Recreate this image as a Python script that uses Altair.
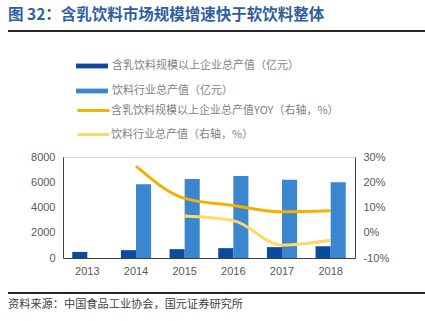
import altair as alt
import pandas as pd

years = ["2013", "2014", "2015", "2016", "2017", "2018"]
dairy_output = [480, 620, 700, 780, 860, 940]
beverage_output = [None, 5850, 6250, 6500, 6200, 6000]
dairy_yoy = [None, 26.4, 13.6, 10.8, 8.3, 8.7]
beverage_yoy = [None, None, 6.6, 4.8, -4.9, -3.0]

bar_series = ["含乳饮料规模以上企业总产值（亿元）", "饮料行业总产值（亿元）"]
line_series = ["含乳饮料规模以上企业总产值YOY（右轴，%）", "饮料行业总产值（右轴，%）"]
bar_colors = ["#0B4A9E", "#3A87CF"]
line_colors = ["#F5B000", "#FFD966"]

title_text = "图 32：含乳饮料市场规模增速快于软饮料整体"
source_text = "资料来源：中国食品工业协会，国元证券研究所"

rows = []
for s, vals in zip(bar_series, [dairy_output, beverage_output]):
    for y, v in zip(years, vals):
        if v is not None:
            rows.append({"year": y, "series": s, "value": v})
bar_df = pd.DataFrame(rows)

rows = []
for s, vals in zip(line_series, [dairy_yoy, beverage_yoy]):
    for y, v in zip(years, vals):
        if v is not None:
            rows.append({"year": y, "series": s, "value": v})
line_df = pd.DataFrame(rows)

CJK = "Noto Sans CJK SC"
NUM = "Liberation Sans"

xenc = alt.X("year:N", sort=years, title=None,
             scale=alt.Scale(domain=years, paddingInner=0.38, paddingOuter=0.19),
             axis=alt.Axis(labelAngle=0, labelFont=NUM, labelFontSize=11, labelColor="#595959",
                           ticks=False, domainColor="#404040", labelPadding=7, grid=False))

bars = alt.Chart(bar_df).mark_bar().encode(
    x=xenc,
    xOffset=alt.XOffset("series:N", sort=bar_series, scale=alt.Scale(domain=bar_series, paddingInner=0, paddingOuter=0)),
    y=alt.Y("value:Q", title=None, scale=alt.Scale(domain=[0, 8000]),
            axis=alt.Axis(values=[0, 2000, 4000, 6000, 8000], format="d", labelFont=NUM, labelFontSize=11,
                          labelColor="#595959", ticks=False, domainColor="#404040", grid=False,
                          labelPadding=8)),
    fill=alt.Fill("series:N", sort=bar_series,
                  scale=alt.Scale(domain=bar_series, range=bar_colors),
                  legend=alt.Legend(orient="none", legendX=13, legendY=-107, title=None,
                                    symbolType="M-1,-0.15H1V0.15H-1Z", symbolSize=1024,
                                    symbolStrokeWidth=0, labelFont=CJK, labelFontSize=11,
                                    labelColor="#7F7F7F", labelLimit=0, rowPadding=4,
                                    labelOffset=4)),
)

lines = alt.Chart(line_df).mark_line(interpolate="monotone", strokeWidth=3).encode(
    x=alt.X("year:N", sort=years, title=None),
    y=alt.Y("value:Q", title=None, scale=alt.Scale(domain=[-10, 30]),
            axis=alt.Axis(orient="right", values=[-10, 0, 10, 20, 30], labelExpr="datum.value + '%'",
                          labelFont=NUM, labelFontSize=11, labelColor="#595959", ticks=False,
                          domainColor="#404040", grid=False, labelPadding=8)),
    stroke=alt.Stroke("series:N", sort=line_series,
                      scale=alt.Scale(domain=line_series, range=line_colors),
                      legend=alt.Legend(orient="none", legendX=13, legendY=-64, title=None,
                                        symbolType="stroke", symbolSize=1024, symbolStrokeWidth=3,
                                        labelFont=CJK, labelFontSize=11, labelColor="#7F7F7F",
                                        labelLimit=0, rowPadding=-3, labelOffset=0)),
)

title = alt.Chart(pd.DataFrame({"t": [title_text]})).mark_text(
    align="left", baseline="middle", font=CJK, fontSize=15.5, fontWeight="bold", color="#2F5E9E"
).encode(text="t:N", x=alt.value(-55), y=alt.value(-142))

source = alt.Chart(pd.DataFrame({"t": [source_text]})).mark_text(
    align="left", baseline="middle", font=CJK, fontSize=11.2, color="#404040"
).encode(text="t:N", x=alt.value(-55), y=alt.value(148))

rules = alt.Chart(pd.DataFrame({"r": [0]})).mark_rule(color="#262626", strokeWidth=2).encode(
    x=alt.value(-55), x2=alt.value(362), y=alt.value(-126)
)
rule2 = alt.Chart(pd.DataFrame({"r": [0]})).mark_rule(color="#262626", strokeWidth=2).encode(
    x=alt.value(-55), x2=alt.value(362), y=alt.value(136)
)

chart = alt.layer(bars, lines, title, source, rules, rule2).resolve_scale(
    y="independent"
).properties(
    width=292, height=101,
    autosize=alt.AutoSizeParams(type="none"),
    padding={"left": 63, "top": 157, "right": 70, "bottom": 63},
).configure_view(strokeWidth=0).configure(background="white")

chart.save("out.html", embed_options={"renderer": "svg", "actions": False})
